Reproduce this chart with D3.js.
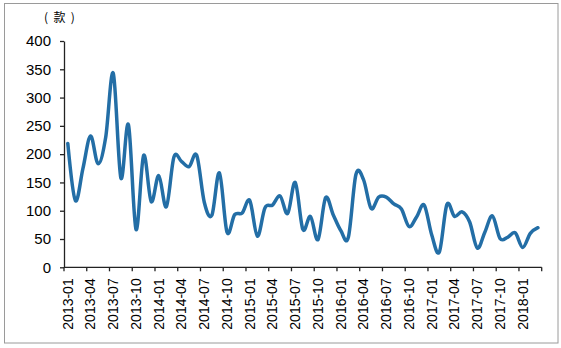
<!DOCTYPE html>
<html><head><meta charset="utf-8">
<script src="https://cdn.jsdelivr.net/npm/d3@7"></script>
<style>
html,body{margin:0;padding:0;background:#fff;}
svg{display:block;font-family:"Liberation Sans",Arial,"Noto Sans CJK SC",sans-serif;}
</style></head><body>
<svg id="c" width="561" height="348"></svg>
<script>
const months = [
"2013-01","2013-02","2013-03","2013-04","2013-05","2013-06","2013-07","2013-08","2013-09","2013-10","2013-11","2013-12",
"2014-01","2014-02","2014-03","2014-04","2014-05","2014-06","2014-07","2014-08","2014-09","2014-10","2014-11","2014-12",
"2015-01","2015-02","2015-03","2015-04","2015-05","2015-06","2015-07","2015-08","2015-09","2015-10","2015-11","2015-12",
"2016-01","2016-02","2016-03","2016-04","2016-05","2016-06","2016-07","2016-08","2016-09","2016-10","2016-11","2016-12",
"2017-01","2017-02","2017-03","2017-04","2017-05","2017-06","2017-07","2017-08","2017-09","2017-10","2017-11","2017-12",
"2018-01","2018-02","2018-03"];
const values = [
219,118,175,232,183,230,343,158,252,67,198,116,
162,107,195,187,178,198,115,92,167,62,93,96,
118,55,105,110,126,95,150,67,90,49,123,93,
65,53,164,155,104,124,124,112,103,72,89,110,
57,27,111,90,98,80,34,62,91,51,53,61,
35,60,70];
const yTicks = [0,50,100,150,200,250,300,350,400];
const unitLabel = "(  款  )";

(function(){
const svg = d3.select("#c");
const mLeft = 64, mRight = 541.7, mTop = 41, mBottom = 267.3;

svg.append("rect").attr("x",4.5).attr("y",3.5).attr("width",553.5).attr("height",339.5)
  .attr("fill","none").attr("stroke","#9a9a9a").attr("stroke-width",1);

const x = d3.scaleBand().domain(months).range([mLeft,mRight]).paddingInner(0).paddingOuter(0);
const y = d3.scaleLinear().domain([0,400]).range([mBottom,mTop]);

// y axis
const gy = svg.append("g").attr("transform",`translate(${mLeft},0)`)
  .call(d3.axisLeft(y).tickValues(yTicks).tickSize(4).tickPadding(9).tickSizeOuter(0));
gy.select(".domain").attr("stroke","#222").attr("stroke-width",1.3);
gy.selectAll(".tick line").attr("stroke","#222").attr("stroke-width",1.3);
gy.selectAll(".tick text").attr("font-size",15).attr("fill","#000")
  .attr("font-family","'Liberation Sans',Arial,sans-serif");

// x axis
const gx = svg.append("g").attr("transform",`translate(0,${mBottom})`);
gx.append("line").attr("x1",mLeft).attr("x2",mRight).attr("y1",0).attr("y2",0)
  .attr("stroke","#222").attr("stroke-width",1.3);
const tickIdx = d3.range(0, months.length+1, 3);
gx.selectAll("line.t").data(tickIdx).join("line").attr("class","t")
  .attr("x1",i=>mLeft+i*x.bandwidth()).attr("x2",i=>mLeft+i*x.bandwidth())
  .attr("y1",0).attr("y2",4).attr("stroke","#222").attr("stroke-width",1.3);
const labIdx = d3.range(0, months.length, 3);
gx.selectAll("text").data(labIdx).join("text")
  .attr("transform",i=>`translate(${x(months[i])+x.bandwidth()/2},11) rotate(-90)`)
  .attr("text-anchor","end").attr("dy","0.35em")
  .attr("font-size",14).attr("fill","#000")
  .text(i=>months[i]);

// unit label
svg.append("text").attr("x",44).attr("y",22).attr("font-size",12).attr("fill","#000")
  .attr("xml:space","preserve").style("white-space","pre")
  .attr("font-family","'Noto Sans CJK SC',sans-serif").text(unitLabel);

// line
const line = d3.line()
  .x((d,i)=>x(months[i])+x.bandwidth()/2)
  .y(d=>y(d))
  .curve(d3.curveCardinal.tension(0));
svg.append("path").datum(values).attr("d",line)
  .attr("fill","none").attr("stroke","#236ea6").attr("stroke-width",3.5)
  .attr("stroke-linejoin","round").attr("stroke-linecap","round");
})();
</script>
</body></html>
